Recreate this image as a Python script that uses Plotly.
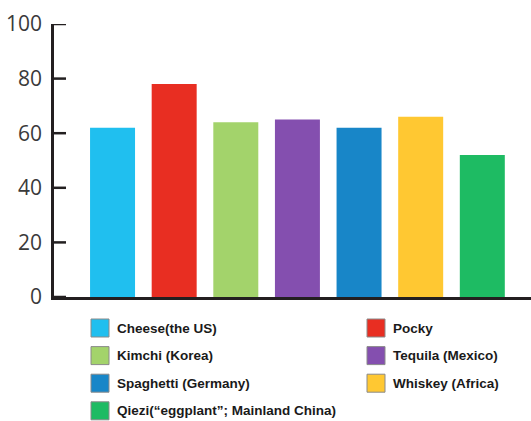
import plotly.graph_objects as go

categories = ["Cheese(the US)", "Pocky", "Kimchi (Korea)", "Tequila (Mexico)",
              "Spaghetti (Germany)", "Whiskey (Africa)",
              "Qiezi(“eggplant”; Mainland China)"]
values = [62, 78, 64, 65, 62, 66, 52]
colors = ["#20BFEF", "#E82E22", "#A3D36B", "#844FAF", "#1886C8", "#FFC832", "#1EBB63"]
y_ticks = [0, 20, 40, 60, 80, 100]

W, H = 531, 421
L, R, T, B = 54, 0, 24, 124
pw, ph = W - L - R, H - T - B

fig = go.Figure()
fig.add_trace(go.Bar(
    x=list(range(len(categories))), y=values,
    marker=dict(color=colors, line=dict(width=0)),
    width=0.73, showlegend=False, hoverinfo="skip",
))

def px2paper(px, py):
    return (px - L) / pw, (H - B - py) / ph

shapes, annos = [], []
# inward tick marks on the y axis
for t in y_ticks:
    shapes.append(dict(type="line", xref="paper", yref="y",
                       x0=0, x1=12 / pw, y0=t, y1=t,
                       line=dict(color="#231f20", width=2.5), layer="above"))

for i, (name, col) in enumerate(zip(categories, colors)):
    r, c = divmod(i, 2)
    x0 = 91 + c * 276
    yc = 328 + r * 27.6
    ax0, ay0 = px2paper(x0, yc + 9)
    ax1, ay1 = px2paper(x0 + 18, yc - 9)
    shapes.append(dict(type="rect", xref="paper", yref="paper",
                       x0=ax0, y0=ay0, x1=ax1, y1=ay1,
                       fillcolor=col, line=dict(color="#8a8a8a", width=1)))
    tx, ty = px2paper(x0 + 24, yc)
    annos.append(dict(xref="paper", yref="paper", x=tx, y=ty, text=name,
                      showarrow=False, xanchor="left", yanchor="middle",
                      font=dict(family="Liberation Sans", size=13.5, color="#1a1a1a",
                                weight="bold")))

fig.update_layout(
    width=W, height=H,
    margin=dict(l=L, r=R, t=T, b=B, pad=0),
    paper_bgcolor="white", plot_bgcolor="white",
    shapes=shapes, annotations=annos,
    xaxis=dict(range=[-0.95, 6.79], showticklabels=False, ticks="",
               showgrid=False, zeroline=False, showline=True,
               linecolor="#231f20", linewidth=2.5),
    yaxis=dict(range=[0, 100], tickmode="array", tickvals=y_ticks,
               ticks="", showgrid=False, zeroline=False,
               showline=True, linecolor="#231f20", linewidth=2.5,
               tickfont=dict(family="Open Sans", size=21, color="#3a3a3a"),
               ticklabelstandoff=5),
    bargap=0.27,
)

fig.write_html("out.html")
